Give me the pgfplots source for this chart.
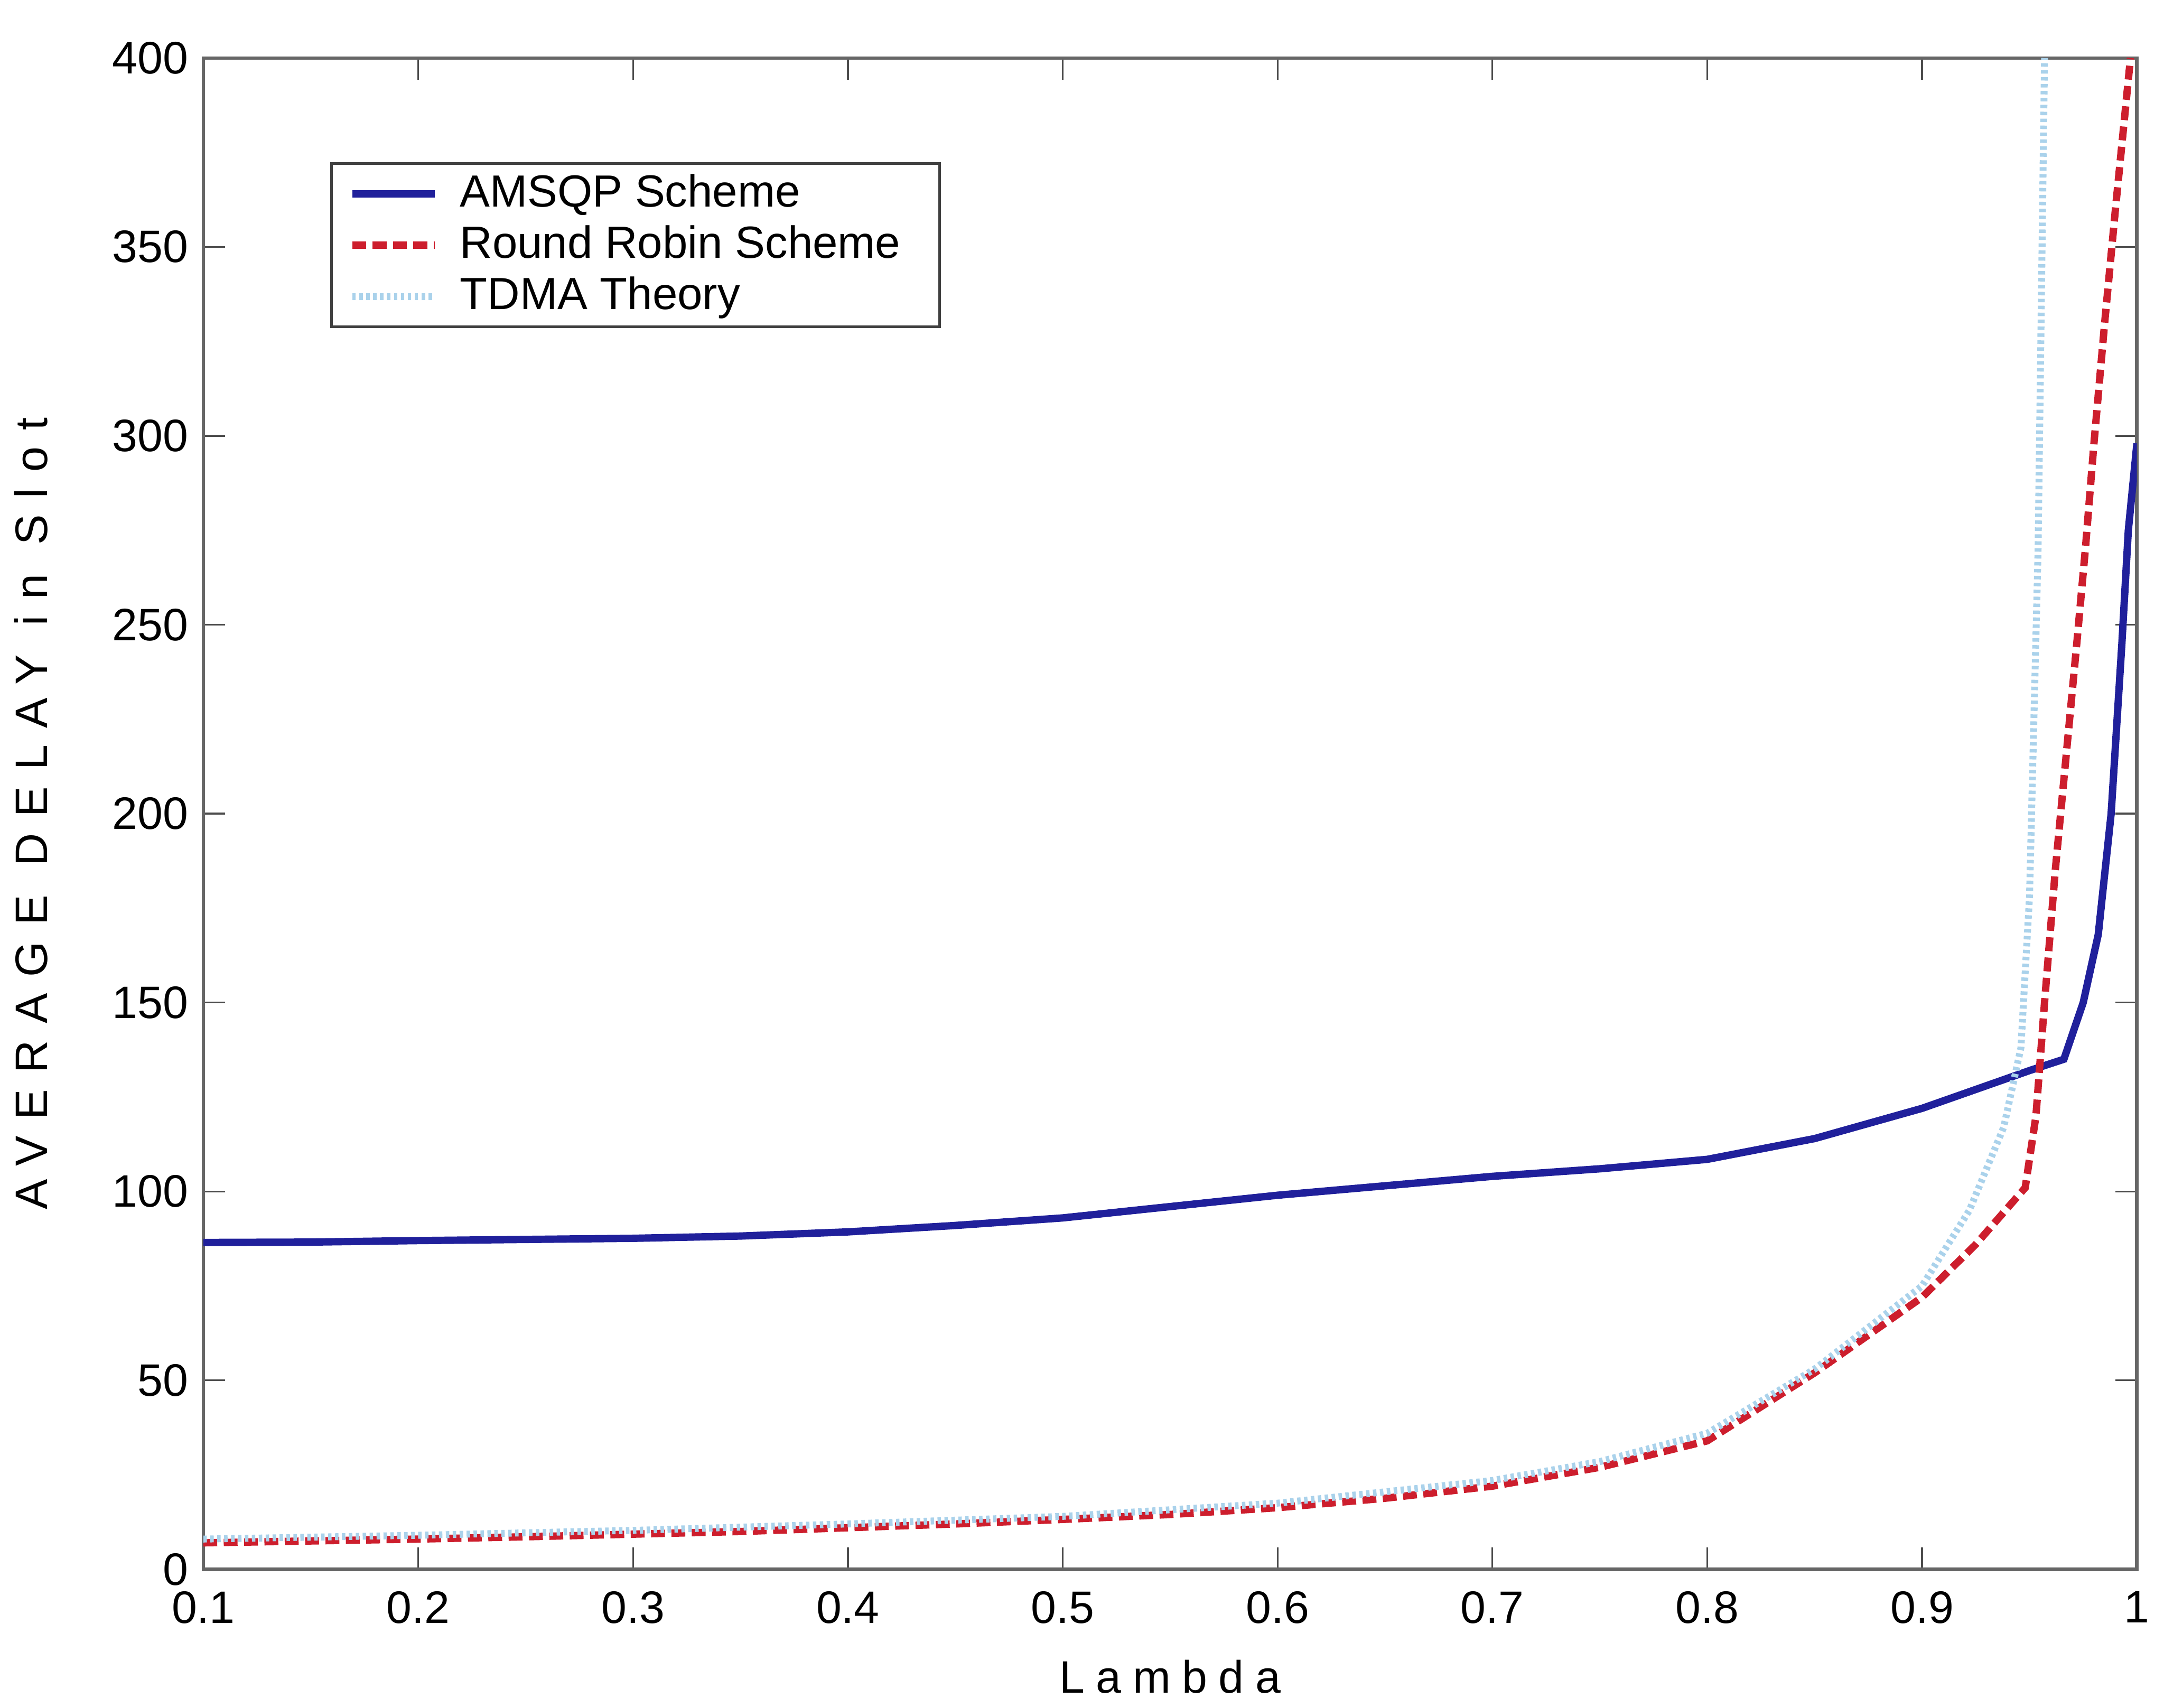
\documentclass[border=0pt]{standalone}
\usepackage{pgfplots}
\pgfplotsset{compat=1.18}
\usepackage{fontspec}
\setmainfont{Liberation Sans}
\definecolor{amsqp}{RGB}{32,32,155}
\definecolor{rr}{RGB}{205,30,45}
\definecolor{tdma}{RGB}{170,210,235}
\begin{document}
\begin{tikzpicture}
\begin{axis}[
  width=446.5pt, height=349pt, scale only axis,
  xmin=0.1, xmax=1, ymin=0, ymax=400,
  xtick={0.1,0.2,0.3,0.4,0.5,0.6,0.7,0.8,0.9,1},
  xticklabels={0.1,0.2,0.3,0.4,0.5,0.6,0.7,0.8,0.9,1},
  ytick={0,50,100,150,200,250,300,350,400},
  tick align=inside, major tick length=5pt,
  tick style={black!70, line width=0.4pt},
  axis line style={black!60, line width=0.8pt},
  /pgf/number format/assume math mode=true,
  ticklabel style={font=\fontsize{10.5}{12}\selectfont},
  xticklabel style={yshift=-1.6pt},
  xlabel={\addfontfeature{LetterSpace=25}Lambda},
  ylabel={\addfontfeature{LetterSpace=36}AVERAGE DELAY in Slot},
  label style={font=\fontsize{10.5}{12}\selectfont},
  xlabel style={yshift=-1.5pt},
  ylabel style={yshift=8pt},
  legend cell align=left,
  legend style={at={(0.0655,0.931)}, anchor=north west, draw=black!75, line width=0.6pt,
    font=\fontsize{10.4}{12}\selectfont, row sep=-1.2pt, inner xsep=4pt, inner ysep=0.5pt,
    nodes={inner xsep=5pt}},
  legend image code/.code={\draw[#1] (0pt,0pt) -- (19pt,0pt);},
]
\addplot[amsqp, line width=1.7pt] coordinates {
(0.1,86.5) (0.15,86.6) (0.2,87) (0.25,87.3) (0.3,87.6) (0.35,88.2) (0.4,89.3) (0.45,91)
(0.5,93) (0.55,96) (0.6,99) (0.65,101.5) (0.7,104) (0.75,106) (0.8,108.5) (0.85,114)
(0.9,122) (0.93,128) (0.95,132) (0.966,135) (0.975,150) (0.982,168) (0.988,200)
(0.993,245) (0.996,275) (1.0,298)
};
\addlegendentry{AMSQP Scheme}
\addplot[rr, line width=1.7pt, dash pattern=on 3.2pt off 1.5pt] coordinates {
(0.1,7) (0.15,7.5) (0.2,8) (0.25,8.6) (0.3,9.3) (0.35,10) (0.4,11) (0.45,12) (0.5,13.2)
(0.55,14.5) (0.6,16.3) (0.65,18.8) (0.7,22) (0.75,27) (0.8,34) (0.85,52) (0.9,72)
(0.925,86) (0.948,101) (0.953,120) (0.957,150) (0.962,185) (0.967,215) (0.972,245)
(0.976,270) (0.98,298) (0.985,330) (0.99,360) (0.997,400)
};
\addlegendentry{Round Robin Scheme}
\addplot[tdma, line width=1.6pt, dash pattern=on 0.8pt off 0.8pt] coordinates {
(0.1,8) (0.2,9) (0.3,10.3) (0.4,12) (0.5,14) (0.6,17.5) (0.7,23.5) (0.75,28.5)
(0.8,36) (0.85,53) (0.9,75) (0.922,95) (0.938,117) (0.946,138) (0.95,178)
(0.954,270) (0.957,400)
};
\addlegendentry{TDMA Theory}
\end{axis}
\path ([yshift=13.4pt]current axis.north);
\end{tikzpicture}
\end{document}
